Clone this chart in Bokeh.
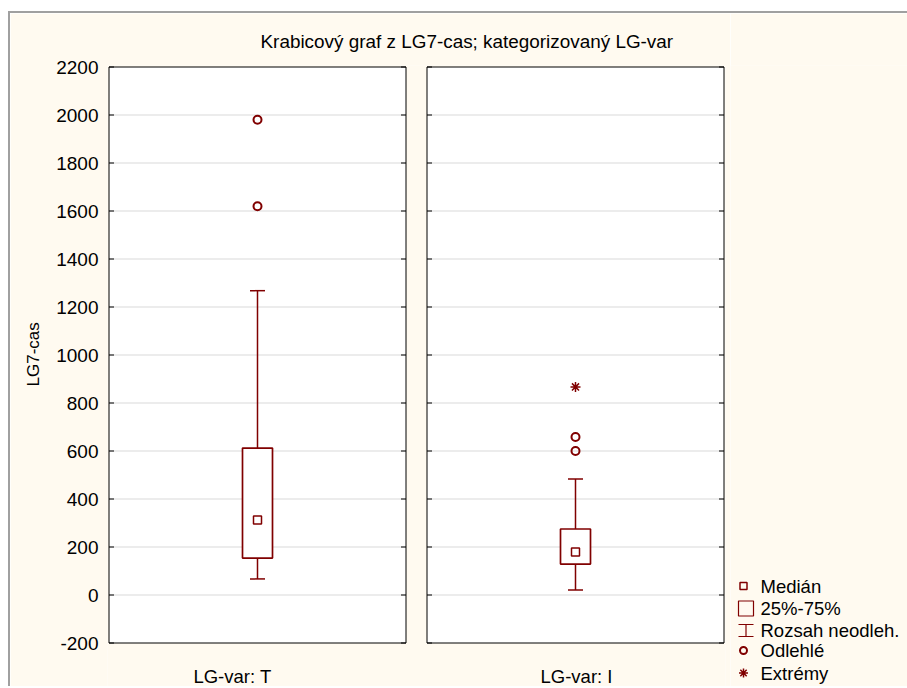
from bokeh.plotting import figure
from bokeh.models import (FactorRange, Range1d, Label, ColumnDataSource, Title,
                          Whisker, TeeHead, Row, Column, Spacer)
from bokeh.core.properties import value
from bokeh.embed import file_html
from bokeh.resources import INLINE

# ---------------- data ----------------
groups = ["T", "I"]
group_labels = ["LG-var: T", "LG-var: I"]
q1 = [154, 129]
medians = [312, 179]
q3 = [612, 275]
whisker_low = [67, 21]
whisker_high = [1268, 483]
outlier_group = ["T", "T", "I", "I"]
outlier_values = [1980, 1620, 658, 600]
extreme_group = ["I"]
extreme_values = [867]
y_ticks = [-200, 0, 200, 400, 600, 800, 1000, 1200, 1400, 1600, 1800, 2000, 2200]
title_text = "Krabicový graf z LG7-cas; kategorizovaný LG-var"
y_label = "LG7-cas"
legend_labels = ["Medián", "25%-75%", "Rozsah neodleh.", "Odlehlé", "Extrémy"]

# ---------------- style / geometry ----------------
FONT = "Liberation Sans"
DARK_RED = "#800000"
CREAM = "#FFFAF0"
GRAY = "#a0a0a0"
PANEL_PX = 297          # panel width in pixels
GAP = 21 / PANEL_PX     # gap between panels (category units)
PAD = 1.5 / PANEL_PX    # frame padding around panels
TICK = 5 / PANEL_PX     # tick length
PANEL_H = 576           # panel height in pixels
FIG_W, FIG_H = 720, 673
LEG_W = 177
TOP_B = 52
FRAME_H = FIG_H - TOP_B

Y_MIN, Y_MAX = y_ticks[0], y_ticks[-1]
ppu = PANEL_H / (Y_MAX - Y_MIN)
y_end = Y_MAX + 1.5 / ppu
y_start = y_end - FRAME_H / ppu

p = figure(width=FIG_W, height=FIG_H,
           x_range=FactorRange(*groups, factor_padding=GAP, range_padding=PAD,
                               range_padding_units="absolute"),
           y_range=Range1d(y_start, y_end),
           output_backend="svg", toolbar_location=None, x_axis_location=None,
           min_border_left=97, min_border_right=5, min_border_top=TOP_B,
           min_border_bottom=0, title=title_text)
p.border_fill_color = CREAM
p.background_fill_color = CREAM
p.outline_line_color = None
p.grid.grid_line_color = None

p.title.align = "left"
p.title.offset = 153
p.title.vertical_align = "top"
p.title.standoff = 24
p.title.text_line_height = 1.0
p.title.text_font = FONT
p.title.text_font_size = "18.9px"
p.title.text_font_style = "normal"
p.title.text_color = "black"

ax = p.yaxis[0]
ax.ticker = y_ticks
ax.bounds = (Y_MIN, Y_MAX)
ax.major_tick_in = 0
ax.major_tick_out = 0
ax.major_tick_line_color = None
ax.minor_tick_line_color = None
ax.axis_line_color = None
ax.major_label_standoff = 9
ax.major_label_overrides = {t: str(t) for t in y_ticks if t < 0}
ax.major_label_text_font = FONT
ax.major_label_text_font_size = "19px"
ax.major_label_text_color = "black"

# y axis title (left side title, shifted up so it is centred on the panels)
p.add_layout(Title(text=y_label, align="left", offset=300, standoff=21,
                   text_font=FONT, text_font_size="17px",
                   text_font_style="normal", text_color="black"), "left")

# white panels
panel_src = ColumnDataSource(dict(left=[(g, -0.5) for g in groups],
                                  right=[(g, 0.5) for g in groups],
                                  bottom=[Y_MIN] * len(groups),
                                  top=[Y_MAX] * len(groups)))
p.quad(left="left", right="right", bottom="bottom", top="top", source=panel_src,
       fill_color="white", line_color=None, level="image")

# grid lines inside each panel
gx0, gx1, gy = [], [], []
for g in groups:
    for yv in y_ticks[1:-1]:
        gx0.append((g, -0.5))
        gx1.append((g, 0.5))
        gy.append(yv)
p.segment(x0=gx0, x1=gx1, y0=gy, y1=gy, line_color="#d9d9d9", line_width=1,
          level="underlay")

src = ColumnDataSource(dict(x=groups, q1=q1, q3=q3, med=medians,
                            lo=whisker_low, hi=whisker_high))

whisk = Whisker(base="x", lower="lo", upper="hi", source=src, dimension="height",
                line_color=DARK_RED, line_width=1.5,
                lower_head=TeeHead(size=15, line_color=DARK_RED, line_width=1.5),
                upper_head=TeeHead(size=15, line_color=DARK_RED, line_width=1.5))
p.add_layout(whisk)

p.vbar(x="x", width=30 / PANEL_PX, bottom="q1", top="q3", source=src,
       fill_color="white", line_color=DARK_RED, line_width=1.7)
p.scatter(x="x", y="med", source=src, marker="square", size=8,
          fill_color=None, line_color=DARK_RED, line_width=1.5)
p.scatter(outlier_group, outlier_values, marker="circle", size=8,
          fill_color=None, line_color=DARK_RED, line_width=2)
p.scatter(extreme_group, extreme_values, marker="asterisk", size=10,
          line_color=DARK_RED, line_width=1.5)

# panel borders
p.quad(left="left", right="right", bottom="bottom", top="top", source=panel_src,
       fill_color=None, line_color="black", line_width=1, level="overlay")

# inward ticks on every panel edge
tx0, tx1, ty = [], [], []
for g in groups:
    for off, d in [(-0.5, 1), (0.5, -1)]:
        for yv in y_ticks:
            tx0.append((g, off))
            tx1.append((g, off + d * TICK))
            ty.append(yv)
p.segment(x0=tx0, x1=tx1, y0=ty, y1=ty, line_color="black", line_width=1,
          level="overlay")

# category labels under the panels
label_y = Y_MIN - 33.5 / ppu
for i, (lab, dx) in enumerate(zip(group_labels, [-25, 1])):
    p.add_layout(Label(x=i + 0.5 + i * GAP, y=label_y, x_offset=dx,
                       text=lab, text_align="center", text_baseline="middle",
                       text_font=FONT, text_font_size="18.5px", text_color="black"))

# ---------------- legend figure ----------------
leg = figure(width=LEG_W, height=FIG_H, x_range=Range1d(0, LEG_W),
             y_range=Range1d(FRAME_H, 0),
             output_backend="svg", toolbar_location=None,
             x_axis_location=None, y_axis_location=None,
             min_border_left=0, min_border_right=0,
             min_border_top=TOP_B, min_border_bottom=0)
leg.border_fill_color = CREAM
leg.background_fill_color = CREAM
leg.outline_line_color = None
leg.grid.grid_line_color = None

row_y = [520.5, 543, 565, 585, 607.5]
leg.scatter([13], [row_y[0]], marker="square", size=7, fill_color=None,
            line_color=DARK_RED, line_width=1.5)
leg.rect([15.5], [row_y[1]], width=15, height=15, fill_color=None,
         line_color=DARK_RED, line_width=1.2)
leg.segment(x0=[15.5, 8, 8], x1=[15.5, 23, 23],
            y0=[row_y[2] - 6, row_y[2] - 6, row_y[2] + 6],
            y1=[row_y[2] + 6, row_y[2] - 6, row_y[2] + 6],
            line_color=DARK_RED, line_width=1.2)
leg.scatter([13], [row_y[3]], marker="circle", size=7, fill_color=None,
            line_color=DARK_RED, line_width=2)
leg.scatter([13], [row_y[4]], marker="asterisk", size=9,
            line_color=DARK_RED, line_width=1.5)
leg.text(x=[30] * len(legend_labels), y=row_y, text=legend_labels,
         text_baseline="middle", text_align="left",
         text_font=value(FONT), text_font_size=value("18.5px"), text_color="black")

# ---------------- page layout with grey frame lines ----------------
top_line = Row(Spacer(width=8, height=2),
               Spacer(width=2 + FIG_W + LEG_W, height=2,
                      styles={"background-color": GRAY}))
body = Row(Spacer(width=8, height=FIG_H),
           Spacer(width=2, height=FIG_H, styles={"background-color": GRAY}),
           p, leg)
root = Column(Spacer(width=10 + FIG_W + LEG_W, height=11), top_line, body)

open("out.html", "w").write(file_html(root, INLINE))
